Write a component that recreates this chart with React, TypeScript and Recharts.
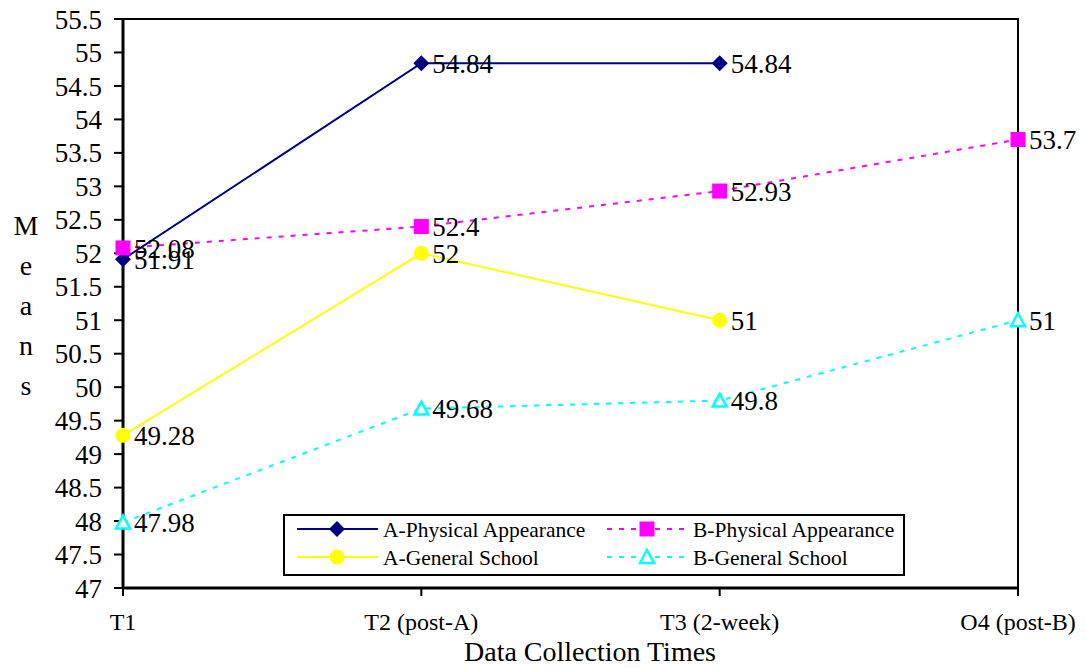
import React from 'react';
import { LineChart, Line, XAxis, YAxis, ReferenceArea, LabelList, Legend } from 'recharts';

const categories = ['T1', 'T2 (post-A)', 'T3 (2-week)', 'O4 (post-B)'];
const aPhysical = [51.91, 54.84, 54.84, null];
const bPhysical = [52.08, 52.4, 52.93, 53.7];
const aGeneral = [49.28, 52, 51, null];
const bGeneral = [47.98, 49.68, 49.8, 51];
const yTicks = [47, 47.5, 48, 48.5, 49, 49.5, 50, 50.5, 51, 51.5, 52, 52.5, 53, 53.5, 54, 54.5, 55, 55.5];

const data = categories.map((name, i) => ({
  name,
  aPhysical: aPhysical[i],
  bPhysical: bPhysical[i],
  aGeneral: aGeneral[i],
  bGeneral: bGeneral[i],
}));

const serif = '"Liberation Serif", "Times New Roman", serif';

type Shape = 'diamond' | 'square' | 'circle' | 'triangle';

const Marker = ({ shape, cx, cy, color }: { shape: Shape; cx: number; cy: number; color: string }) => {
  if (shape === 'diamond') {
    return <polygon points={`${cx},${cy - 8} ${cx + 8},${cy} ${cx},${cy + 8} ${cx - 8},${cy}`} fill={color} />;
  }
  if (shape === 'square') {
    return <rect x={cx - 7.5} y={cy - 7.5} width={15} height={15} fill={color} />;
  }
  if (shape === 'circle') {
    return <circle cx={cx} cy={cy} r={7.5} fill={color} />;
  }
  return (
    <polygon
      points={`${cx},${cy - 7} ${cx + 7},${cy + 6} ${cx - 7},${cy + 6}`}
      fill="#fff"
      stroke={color}
      strokeWidth={2.5}
    />
  );
};

const makeDot = (shape: Shape, color: string) => (props: any) => {
  const { cx, cy, value, index } = props;
  if (value == null || cx == null || cy == null) return <g key={`d-${shape}-${index}`} />;
  return (
    <g key={`d-${shape}-${index}`}>
      <Marker shape={shape} cx={cx} cy={cy} color={color} />
    </g>
  );
};

const series = [
  { key: 'aPhysical', name: 'A-Physical Appearance', color: '#000080', shape: 'diamond' as Shape, dash: undefined },
  { key: 'bPhysical', name: 'B-Physical Appearance', color: '#FF00FF', shape: 'square' as Shape, dash: '5 7' },
  { key: 'aGeneral', name: 'A-General School', color: '#FFFF00', shape: 'circle' as Shape, dash: undefined },
  { key: 'bGeneral', name: 'B-General School', color: '#00FFFF', shape: 'triangle' as Shape, dash: '5 7' },
];

const LegendBox = () => {
  const cols = [14, 324];
  const rows = [15, 43];
  return (
    <svg width={622} height={62}>
      <rect x={1} y={1} width={620} height={60} fill="#fff" stroke="#000" strokeWidth={2} />
      {series.map((s, i) => {
        const x = cols[i % 2];
        const y = rows[Math.floor(i / 2)];
        return (
          <g key={s.key}>
            <line x1={x} y1={y} x2={x + 81} y2={y} stroke={s.color} strokeWidth={2} strokeDasharray={s.dash} />
            <Marker shape={s.shape} cx={x + 40} cy={y} color={s.color} />
            <text x={x + 86} y={y} dy="0.35em" fontSize={21.5} fontFamily={serif} fill="#000">
              {s.name}
            </text>
          </g>
        );
      })}
    </svg>
  );
};

export default function App() {
  return (
    <div style={{ position: 'absolute', left: 0, top: 0, background: '#fff', fontFamily: serif }}>
      <LineChart width={1086} height={668} data={data} margin={{ top: 19, right: 68, left: 0, bottom: 0 }}>
        <XAxis
          dataKey="name"
          interval={0}
          height={80}
          tickSize={8}
          tickMargin={17}
          axisLine={{ stroke: '#000', strokeWidth: 3 }}
          tickLine={{ stroke: '#000', strokeWidth: 2 }}
          tick={{ fill: '#000', fontSize: 24, fontFamily: serif }}
          label={{
            content: () => (
              <text x={590} y={661} fontSize={28} fontFamily={serif} fill="#000" textAnchor="middle">
                Data Collection Times
              </text>
            ),
          }}
        />
        <YAxis
          type="number"
          domain={[47, 55.5]}
          ticks={yTicks}
          interval={0}
          width={123}
          tickSize={9}
          tickMargin={12}
          axisLine={{ stroke: '#000', strokeWidth: 3 }}
          tickLine={{ stroke: '#000', strokeWidth: 2 }}
          tick={{ fill: '#000', fontSize: 27, fontFamily: serif }}
          label={{
            content: () => (
              <text x={25} fontSize={28} fontFamily={serif} fill="#000" textAnchor="middle">
                {['M', 'e', 'a', 'n', 's'].map((c, i) => (
                  <tspan key={i} x={26} y={235 + i * 40}>
                    {c}
                  </tspan>
                ))}
              </text>
            ),
          }}
        />
        <ReferenceArea x1="T1" x2="O4 (post-B)" y1={47} y2={55.5} fill="none" stroke="#000" strokeWidth={2} />
        <Legend
          layout="horizontal"
          verticalAlign="middle"
          align="center"
          wrapperStyle={{ position: 'absolute', left: 283, top: 514, width: 622, height: 62 }}
          content={() => <LegendBox />}
        />
        {series.map((s) => (
          <Line
            key={s.key}
            dataKey={s.key}
            name={s.name}
            stroke={s.color}
            strokeWidth={2}
            strokeDasharray={s.dash}
            dot={makeDot(s.shape, s.color)}
            activeDot={false}
            isAnimationActive={false}
            connectNulls={false}
          >
            <LabelList
              dataKey={s.key}
              position="right"
              offset={11}
              style={{ fill: '#000', fontSize: 27, fontFamily: serif }}
            />
          </Line>
        ))}
      </LineChart>
    </div>
  );
}
